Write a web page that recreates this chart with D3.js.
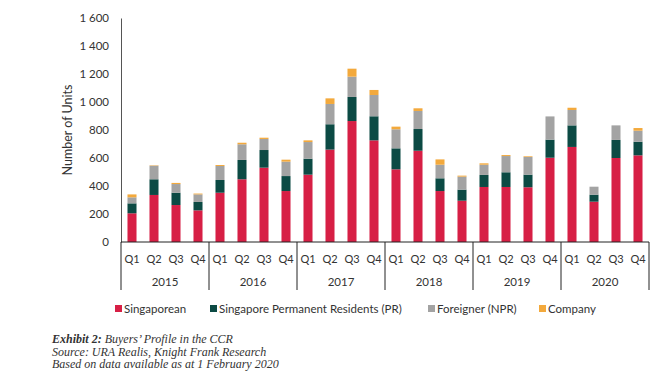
<!DOCTYPE html>
<html>
<head>
<meta charset="utf-8">
<script src="https://d3js.org/d3.v7.min.js"></script>
<style>
    body { margin: 0; background: #fff; }
    svg text { fill: #333; }
</style>
</head>
<body>
<div id="chart"></div>
<script>
const years    = ["2015", "2016", "2017", "2018", "2019", "2020"];
const quarters = ["Q1", "Q2", "Q3", "Q4"];

const singaporean = [205, 336, 264, 226, 352, 448, 531, 364, 481, 660, 864, 726,
                     519, 652, 364, 295, 393, 393, 391, 602, 679, 288, 600, 619];
const pr          = [71, 112, 88, 60, 91, 138, 126, 107, 114, 181, 172, 172,
                     150, 155, 91, 79, 86, 105, 90, 129, 154, 50, 129, 97];
const npr         = [43, 97, 62, 54, 100, 112, 79, 103, 119, 145, 145, 152,
                     136, 129, 97, 93, 73, 116, 126, 166, 110, 57, 104, 79];
const company     = [21, 3, 8, 6, 7, 11, 9, 14, 12, 40, 57, 36,
                     19, 19, 38, 7, 10, 7, 5, 0, 16, 0, 0, 19];

const seriesNames  = ["Singaporean", "Singapore Permanent Residents (PR)", "Foreigner (NPR)", "Company"];
const seriesColors = ["#d71f45", "#0c4a44", "#a3a3a3", "#f3a93c"];
const yTicks       = [0, 200, 400, 600, 800, 1000, 1200, 1400, 1600];

const footnotes = [
    {bold: "Exhibit 2:", rest: " Buyers\u2019 Profile in the CCR"},
    {bold: "", rest: "Source: URA Realis, Knight Frank Research"},
    {bold: "", rest: "Based on data available as at 1 February 2020"}
];

let width  = 660;
let height = 385;
let margin = {top: 18, right: 11, bottom: 143, left: 121};
let box_width  = width - margin.left - margin.right;
let box_height = height - margin.top - margin.bottom;

let sansFont = "Lato, 'Liberation Sans', sans-serif";

let svg = d3.select("#chart")
    .append("svg")
    .attr("width", width)
    .attr("height", height);

let g = svg.append("g")
    .attr("transform", "translate(" + margin.left + "," + margin.top + ")");

// one band per quarter
let keys = [];
years.forEach(yr => quarters.forEach(q => keys.push(yr + "-" + q)));

let rows = keys.map((k, i) => ({
    key: k,
    s: singaporean[i],
    pr: pr[i],
    npr: npr[i],
    co: company[i]
}));

let x = d3.scaleBand()
    .domain(keys)
    .range([0, box_width])
    .paddingInner(0.59)
    .paddingOuter(0.295);

let y = d3.scaleLinear()
    .domain([0, 1600])
    .range([box_height, 0]);

let stack  = d3.stack().keys(["s", "pr", "npr", "co"]);
let layers = stack(rows);

g.selectAll("g.layer")
    .data(layers)
    .enter()
    .append("g")
    .attr("class", "layer")
    .attr("fill", (d, i) => seriesColors[i])
    .selectAll("rect")
    .data(d => d)
    .enter()
    .append("rect")
    .attr("x", d => x(d.data.key))
    .attr("y", d => y(d[1]))
    .attr("width", x.bandwidth())
    .attr("height", d => y(d[0]) - y(d[1]));

// y axis: line + labels, no ticks
let yAxis = g.append("g")
    .call(d3.axisLeft(y)
        .tickValues(yTicks)
        .tickSize(0)
        .tickPadding(12)
        .tickFormat(d => d3.format(",")(d).replace(",", " ")));
yAxis.select(".domain").attr("stroke", "#555");
yAxis.selectAll("text")
    .attr("font-family", sansFont)
    .attr("font-size", "11.5px")
    .attr("fill", "#333");

// x axis line
g.append("line")
    .attr("x1", 0).attr("x2", box_width)
    .attr("y1", box_height).attr("y2", box_height)
    .attr("stroke", "#222");

// quarter labels
g.selectAll("text.q")
    .data(keys)
    .enter()
    .append("text")
    .attr("class", "q")
    .attr("x", d => x(d) + x.bandwidth() / 2)
    .attr("y", box_height + 21)
    .attr("text-anchor", "middle")
    .attr("font-family", sansFont)
    .attr("font-size", "11px")
    .text(d => d.split("-")[1]);

// year groups
let groupW = x.step() * quarters.length;
let yearX  = d3.scaleBand().domain(years).range([0, box_width]);

g.selectAll("line.sep")
    .data(d3.range(years.length + 1))
    .enter()
    .append("line")
    .attr("class", "sep")
    .attr("x1", i => i * groupW)
    .attr("x2", i => i * groupW)
    .attr("y1", box_height)
    .attr("y2", box_height + 48)
    .attr("stroke", "#222");

g.selectAll("text.yr")
    .data(years)
    .enter()
    .append("text")
    .attr("class", "yr")
    .attr("x", d => yearX(d) + yearX.bandwidth() / 2)
    .attr("y", box_height + 44)
    .attr("text-anchor", "middle")
    .attr("font-family", sansFont)
    .attr("font-size", "11.5px")
    .text(d => d);

// y axis title
svg.append("text")
    .attr("transform", "translate(72," + (margin.top + 112) + ") rotate(-90)")
    .attr("text-anchor", "middle")
    .attr("font-family", sansFont)
    .attr("font-size", "12.5px")
    .text("Number of Units");

// legend
let legendX = [115, 210, 428, 539];
let legend = svg.selectAll("g.legend")
    .data(seriesNames)
    .enter()
    .append("g")
    .attr("class", "legend")
    .attr("transform", (d, i) => "translate(" + legendX[i] + ",309)");

legend.append("rect")
    .attr("x", 0)
    .attr("y", -4)
    .attr("width", 7)
    .attr("height", 7)
    .attr("fill", (d, i) => seriesColors[i]);

legend.append("text")
    .attr("x", 9)
    .attr("y", 4)
    .attr("font-family", sansFont)
    .attr("font-size", "11.5px")
    .text(d => d);

// footnote
let note = svg.append("g")
    .attr("font-family", "'Liberation Serif', 'DejaVu Serif', serif")
    .attr("font-style", "italic")
    .attr("font-size", "12px");

footnotes.forEach((f, i) => {
    let t = note.append("text")
        .attr("x", 52)
        .attr("y", 343 + i * 12.5)
        .attr("fill", "#444");
    if (f.bold) {
        t.append("tspan").attr("font-weight", "bold").attr("fill", "#333").text(f.bold);
    }
    t.append("tspan").text(f.rest);
});
</script>
</body>
</html>
